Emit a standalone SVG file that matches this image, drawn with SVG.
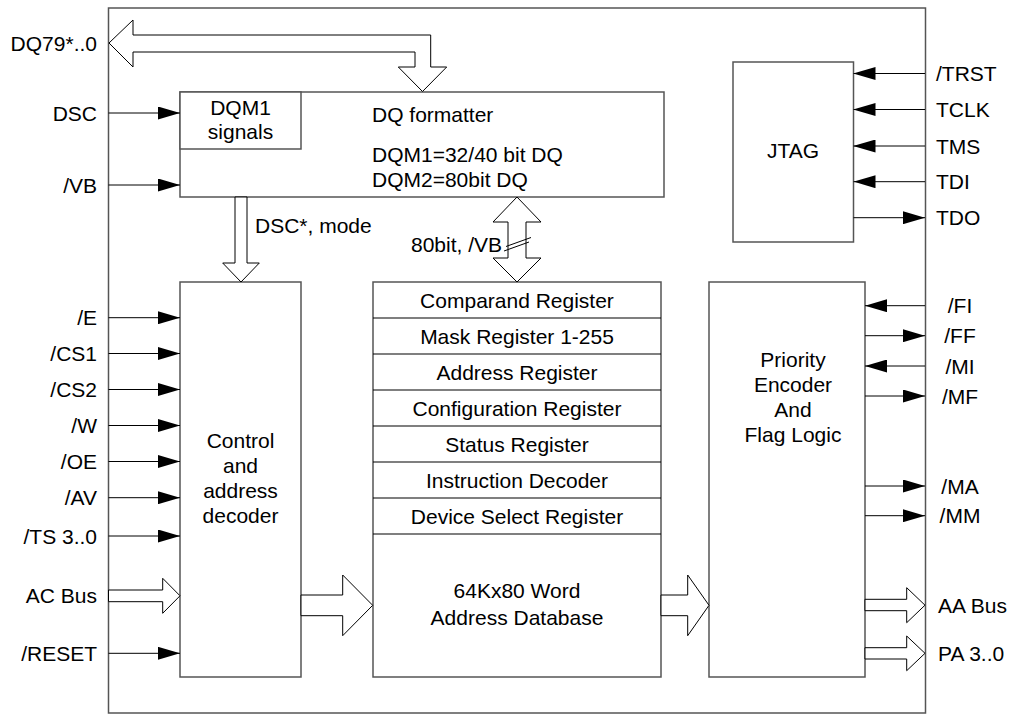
<svg xmlns="http://www.w3.org/2000/svg" width="1013" height="719" viewBox="0 0 1013 719">
<style>
text{font-family:"Liberation Sans",Arial,sans-serif;font-size:21px;fill:#000}
.box{fill:#fff;stroke:#555;stroke-width:1.5}
.sig{stroke:#000;stroke-width:1;fill:none;marker-end:url(#ah)}
.bus{fill:#fff;stroke:#000;stroke-width:1}
.l{text-anchor:end}
.m{text-anchor:middle}
</style>
<defs>
<marker id="ah" markerUnits="userSpaceOnUse" markerWidth="22" markerHeight="13" refX="22" refY="6.5" orient="auto">
<path d="M0,0 L22,6.5 L0,13 z" fill="#000"/>
</marker>
</defs>
<rect id="outer" class="box" x="108.5" y="8" width="817" height="705"/>
<g id="dq-formatter">
<rect class="box" x="180" y="92" width="484" height="105"/>
<text x="372" y="122">DQ formatter</text>
<text x="372" y="162">DQM1=32/40 bit DQ</text>
<text x="372" y="187">DQM2=80bit DQ</text>
</g>
<g id="dqm1-signals">
<rect class="box" x="180" y="92" width="121" height="57"/>
<text class="m" x="240.5" y="115">DQM1</text>
<text class="m" x="240.5" y="139">signals</text>
</g>
<g id="jtag">
<rect class="box" x="733" y="62" width="120.5" height="180"/>
<text class="m" x="793" y="158">JTAG</text>
</g>
<g id="control">
<rect class="box" x="180" y="282" width="121" height="395"/>
<text class="m" x="240.5" y="448">Control</text>
<text class="m" x="240.5" y="473">and</text>
<text class="m" x="240.5" y="498">address</text>
<text class="m" x="240.5" y="523">decoder</text>
</g>
<g id="registers">
<rect class="box" x="373" y="282" width="288" height="395"/>
<path d="M373,318H661M373,354H661M373,390H661M373,426H661M373,462H661M373,498H661M373,534H661" stroke="#000" stroke-width="1.2" fill="none"/>
<text class="m" x="517" y="307.5">Comparand Register</text>
<text class="m" x="517" y="343.5">Mask Register 1-255</text>
<text class="m" x="517" y="379.5">Address Register</text>
<text class="m" x="517" y="415.5">Configuration Register</text>
<text class="m" x="517" y="451.5">Status Register</text>
<text class="m" x="517" y="487.5">Instruction Decoder</text>
<text class="m" x="517" y="523.5">Device Select Register</text>
<text class="m" x="517" y="598">64Kx80 Word</text>
<text class="m" x="517" y="625">Address Database</text>
</g>
<g id="priority">
<rect class="box" x="709" y="282" width="156" height="395"/>
<text class="m" x="793" y="367">Priority</text>
<text class="m" x="793" y="392">Encoder</text>
<text class="m" x="793" y="417">And</text>
<text class="m" x="793" y="442">Flag Logic</text>
</g>
<g id="connectors">
<polygon class="bus" points="109,43 133,20 133,35 430.7,35 430.7,67 446.7,67 422.5,91.5 398.3,67 415,67 415,52 133,52 133,67"/>
<polygon class="bus" points="235,197 247,197 247,263 259.3,263 241,282 222.7,263 235,263"/>
<polygon class="bus" points="517,197 541,222 526,222 526,258 541,258 517,282 493,258 508,258 508,222 493,222"/>
<path d="M504,251 L529,242 M506,246.5 L531,237.5" stroke="#000" stroke-width="1" fill="none"/>
<polygon class="bus" points="108.5,590 162.7,590 162.7,578.3 180,595.8 162.7,613.3 162.7,601.7 108.5,601.7"/>
<polygon class="bus" points="301,595 342.7,595 342.7,575 372.7,605.3 342.7,635.7 342.7,615.7 301,615.7"/>
<polygon class="bus" points="661,595 687.7,595 687.7,575 709,605.3 687.7,635.7 687.7,615.7 661,615.7"/>
<polygon class="bus" points="865,599.3 906.7,599.3 906.7,587.7 925,605.2 906.7,622.7 906.7,610.7 865,610.7"/>
<polygon class="bus" points="865,647.7 906.7,647.7 906.7,636 925,653.3 906.7,670.7 906.7,659 865,659"/>
<path class="sig" d="M108.5,113H180"/>
<path class="sig" d="M108.5,185H180"/>
<path class="sig" d="M108.5,317.7H180"/>
<path class="sig" d="M108.5,353.5H180"/>
<path class="sig" d="M108.5,389.5H180"/>
<path class="sig" d="M108.5,425.5H180"/>
<path class="sig" d="M108.5,461.5H180"/>
<path class="sig" d="M108.5,497.7H180"/>
<path class="sig" d="M108.5,536H180"/>
<path class="sig" d="M108.5,653.3H180"/>
<path class="sig" d="M925,73.5H853.5"/>
<path class="sig" d="M925,109.5H853.5"/>
<path class="sig" d="M925,146H853.5"/>
<path class="sig" d="M925,181.7H853.5"/>
<path class="sig" d="M853.5,217.7H925"/>
<path class="sig" d="M925,305.7H865"/>
<path class="sig" d="M865,335.7H925"/>
<path class="sig" d="M925,366H865"/>
<path class="sig" d="M865,396H925"/>
<path class="sig" d="M865,486H925"/>
<path class="sig" d="M865,515.7H925"/>
<text x="255" y="233">DSC*, mode</text>
<text x="411" y="252">80bit, /VB</text>
</g>
<g id="labels">
<text class="l" x="97" y="50.5">DQ79*..0</text>
<text class="l" x="97" y="120.5">DSC</text>
<text class="l" x="97" y="192.5">/VB</text>
<text class="l" x="97" y="325">/E</text>
<text class="l" x="97" y="361">/CS1</text>
<text class="l" x="97" y="397">/CS2</text>
<text class="l" x="97" y="433">/W</text>
<text class="l" x="97" y="469">/OE</text>
<text class="l" x="97" y="505">/AV</text>
<text class="l" x="97" y="543.5">/TS 3..0</text>
<text class="l" x="97" y="603">AC Bus</text>
<text class="l" x="97" y="661">/RESET</text>
<text x="936" y="81">/TRST</text>
<text x="936" y="117">TCLK</text>
<text x="936" y="153.5">TMS</text>
<text x="936" y="189">TDI</text>
<text x="936" y="225">TDO</text>
<text class="m" x="960" y="313">/FI</text>
<text class="m" x="960" y="343">/FF</text>
<text class="m" x="960" y="373.5">/MI</text>
<text class="m" x="960" y="403.5">/MF</text>
<text class="m" x="960" y="493.5">/MA</text>
<text class="m" x="960" y="523">/MM</text>
<text x="938" y="612.5">AA Bus</text>
<text x="938" y="661">PA 3..0</text>
</g>
</svg>
